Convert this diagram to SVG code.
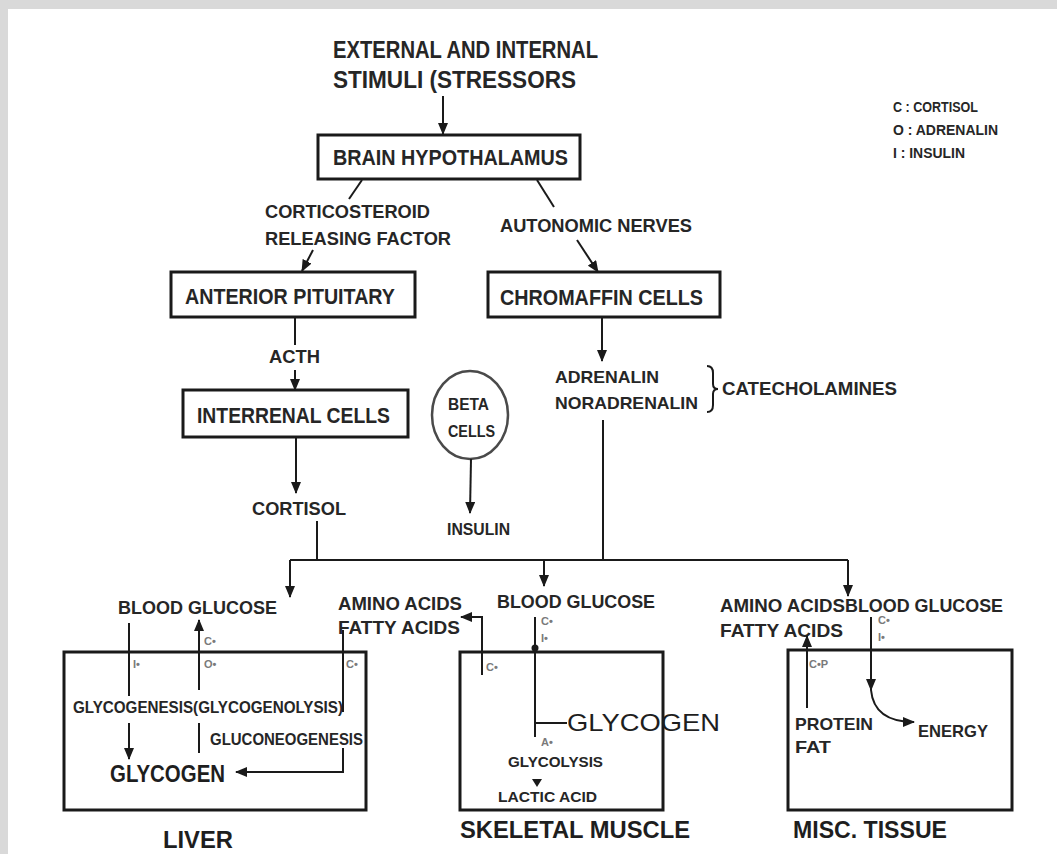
<svg xmlns="http://www.w3.org/2000/svg" width="1057" height="854" viewBox="0 0 1057 854">
<style>
  text { font-family: "Liberation Sans", Arial, sans-serif; font-weight: bold; fill: #262626; }
  .t23 { font-size: 23px; }
  .t22 { font-size: 22px; }
  .t19 { font-size: 19px; }
  .t17 { font-size: 17px; }
  .t16 { font-size: 16px; }
  .t15 { font-size: 15px; }
  .t14 { font-size: 14px; }
  .big { font-size: 24px; fill: #1e1e1e; }
  .mk { font-size: 11px; fill: #7a7a7a; }
  .box { fill: #ffffff; stroke: #1a1a1a; stroke-width: 3; }
  .tbox { fill: none; stroke: #1a1a1a; stroke-width: 3; }
  .ln { fill: none; stroke: #1a1a1a; stroke-width: 2; }
  .ar { fill: none; stroke: #1a1a1a; stroke-width: 2; marker-end: url(#ah); }
</style>
<defs>
  <marker id="ah" viewBox="0 0 12 10" refX="11" refY="5" markerWidth="12" markerHeight="10" markerUnits="userSpaceOnUse" orient="auto">
    <path d="M0,0 L12,5 L0,10 z" fill="#1a1a1a"/>
  </marker>
</defs>

<rect x="0" y="0" width="1057" height="854" fill="#d9d9d9"/>
<rect x="8" y="9" width="1049" height="845" fill="#ffffff"/>

<g id="title">
  <text class="t23" x="333" y="58" textLength="265" lengthAdjust="spacingAndGlyphs">EXTERNAL AND INTERNAL</text>
  <text class="t23" x="333" y="88" textLength="243" lengthAdjust="spacingAndGlyphs">STIMULI (STRESSORS</text>
</g>

<g id="legend">
  <text class="t14" x="893" y="112" textLength="85" lengthAdjust="spacingAndGlyphs">C : CORTISOL</text>
  <text class="t14" x="893" y="135" textLength="105" lengthAdjust="spacingAndGlyphs">O : ADRENALIN</text>
  <text class="t14" x="893" y="158" textLength="72" lengthAdjust="spacingAndGlyphs">I : INSULIN</text>
</g>

<g id="hypothalamus">
  <rect class="box" x="318" y="135" width="262" height="44"/>
  <text class="t22" x="333" y="165" textLength="235" lengthAdjust="spacingAndGlyphs">BRAIN HYPOTHALAMUS</text>
</g>

<g id="crf">
  <text class="t19" x="265" y="218" textLength="165" lengthAdjust="spacingAndGlyphs">CORTICOSTEROID</text>
  <text class="t19" x="265" y="245" textLength="186" lengthAdjust="spacingAndGlyphs">RELEASING FACTOR</text>
</g>

<g id="autonomic">
  <text class="t19" x="500" y="232" textLength="192" lengthAdjust="spacingAndGlyphs">AUTONOMIC NERVES</text>
</g>

<g id="anterior-pituitary">
  <rect class="box" x="171" y="272" width="244" height="45"/>
  <text class="t22" x="185" y="304" textLength="210" lengthAdjust="spacingAndGlyphs">ANTERIOR PITUITARY</text>
</g>

<g id="chromaffin">
  <rect class="box" x="488" y="272" width="232" height="45"/>
  <text class="t22" x="500" y="305" textLength="203" lengthAdjust="spacingAndGlyphs">CHROMAFFIN CELLS</text>
</g>

<g id="acth">
  <text class="t19" x="269" y="363" textLength="51" lengthAdjust="spacingAndGlyphs">ACTH</text>
</g>

<g id="interrenal">
  <rect class="box" x="183" y="390" width="225" height="47"/>
  <text class="t22" x="197" y="423" textLength="193" lengthAdjust="spacingAndGlyphs">INTERRENAL CELLS</text>
</g>

<g id="beta-cells">
  <ellipse cx="470" cy="415" rx="38" ry="44" fill="#ffffff" stroke="#4a4a4a" stroke-width="2.5"/>
  <text class="t17" x="448" y="410" textLength="41" lengthAdjust="spacingAndGlyphs">BETA</text>
  <text class="t17" x="448" y="437" textLength="47" lengthAdjust="spacingAndGlyphs">CELLS</text>
</g>

<g id="cortisol">
  <text class="t19" x="252" y="515" textLength="94" lengthAdjust="spacingAndGlyphs">CORTISOL</text>
</g>

<g id="insulin">
  <text class="t16" x="447" y="535" textLength="63" lengthAdjust="spacingAndGlyphs">INSULIN</text>
</g>

<g id="catecholamines">
  <text class="t17" x="555" y="383" textLength="104" lengthAdjust="spacingAndGlyphs">ADRENALIN</text>
  <text class="t17" x="555" y="409" textLength="143" lengthAdjust="spacingAndGlyphs">NORADRENALIN</text>
  <path class="ln" d="M707,366 q6,0 6,7 v11 q0,5 5,5 q-5,0 -5,5 v11 q0,7 -6,7"/>
  <text class="t19" x="722" y="395" textLength="175" lengthAdjust="spacingAndGlyphs">CATECHOLAMINES</text>
</g>

<g id="liver">
  <rect class="tbox" x="64" y="652" width="302" height="158"/>
  <text class="t19" x="118" y="614" textLength="159" lengthAdjust="spacingAndGlyphs">BLOOD GLUCOSE</text>
  <text class="t16" x="73" y="713" textLength="270" lengthAdjust="spacingAndGlyphs">GLYCOGENESIS(GLYCOGENOLYSIS)</text>
  <text class="t16" x="210" y="745" textLength="153" lengthAdjust="spacingAndGlyphs">GLUCONEOGENESIS</text>
  <text class="big" x="110" y="782" textLength="115" lengthAdjust="spacingAndGlyphs">GLYCOGEN</text>
  <text class="big" x="163" y="848" textLength="70" lengthAdjust="spacingAndGlyphs">LIVER</text>
  <text class="mk" x="133" y="668">I•</text>
  <text class="mk" x="204" y="645">C•</text>
  <text class="mk" x="204" y="668">O•</text>
  <text class="mk" x="346" y="668">C•</text>
</g>

<g id="liver-inputs">
  <text class="t19" x="338" y="610" textLength="124" lengthAdjust="spacingAndGlyphs">AMINO ACIDS</text>
  <text class="t19" x="338" y="634" textLength="122" lengthAdjust="spacingAndGlyphs">FATTY ACIDS</text>
</g>

<g id="skeletal-muscle">
  <rect class="tbox" x="460" y="652" width="203" height="158"/>
  <text class="t19" x="497" y="608" textLength="158" lengthAdjust="spacingAndGlyphs">BLOOD GLUCOSE</text>
  <text class="big" x="567" y="731" textLength="153" lengthAdjust="spacingAndGlyphs" style="font-weight:normal">GLYCOGEN</text>
  <text class="t15" x="508" y="767" textLength="95" lengthAdjust="spacingAndGlyphs">GLYCOLYSIS</text>
  <text class="t15" x="498" y="802" textLength="99" lengthAdjust="spacingAndGlyphs">LACTIC ACID</text>
  <text class="big" x="460" y="838" textLength="230" lengthAdjust="spacingAndGlyphs">SKELETAL MUSCLE</text>
  <text class="mk" x="486" y="671">C•</text>
  <text class="mk" x="541" y="625">C•</text>
  <text class="mk" x="541" y="642">I•</text>
  <text class="mk" x="541" y="746">A•</text>
</g>

<g id="misc-tissue">
  <rect class="tbox" x="788" y="650" width="224" height="160"/>
  <text class="t19" x="720" y="612" textLength="125" lengthAdjust="spacingAndGlyphs">AMINO ACIDS</text>
  <text class="t19" x="845" y="612" textLength="158" lengthAdjust="spacingAndGlyphs">BLOOD GLUCOSE</text>
  <text class="t19" x="720" y="637" textLength="123" lengthAdjust="spacingAndGlyphs">FATTY ACIDS</text>
  <text class="t17" x="795" y="730" textLength="78" lengthAdjust="spacingAndGlyphs">PROTEIN</text>
  <text class="t17" x="795" y="753" textLength="36" lengthAdjust="spacingAndGlyphs">FAT</text>
  <text class="t17" x="918" y="737" textLength="70" lengthAdjust="spacingAndGlyphs">ENERGY</text>
  <text class="big" x="793" y="838" textLength="154" lengthAdjust="spacingAndGlyphs">MISC. TISSUE</text>
  <text class="mk" x="809" y="668">C•P</text>
  <text class="mk" x="878" y="624">C•</text>
  <text class="mk" x="878" y="641">I•</text>
</g>

<g id="connectors">
  <path class="ar" d="M443,96 L443,134"/>
  <path class="ln" d="M362,180 L349,199"/>
  <path class="ar" d="M313,250 L302,271"/>
  <path class="ln" d="M537,180 L554,207"/>
  <path class="ar" d="M577,240 L598,272"/>
  <path class="ln" d="M295,318 L295,345"/>
  <path class="ar" d="M295,370 L295,390"/>
  <path class="ar" d="M296,438 L296,493"/>
  <path class="ar" d="M471,459 L470,513"/>
  <path class="ar" d="M602,318 L602,361"/>
  <path class="ln" d="M603,420 L603,560"/>
  <path class="ln" d="M317,521 L317,560"/>
  <path class="ln" d="M290,560 L848,560"/>
  <path class="ar" d="M290,560 L290,597"/>
  <path class="ar" d="M544,560 L544,586"/>
  <path class="ar" d="M848,560 L848,596"/>
  <path class="ln" d="M129,623 L129,696"/>
  <path class="ar" d="M129,723 L129,759"/>
  <path class="ar" d="M199,690 L199,620"/>
  <path class="ln" d="M199,723 L199,753"/>
  <path class="ln" d="M343,630 L343,712"/>
  <path class="ar" d="M343,748 L343,772 L236,772"/>
  <path class="ar" d="M482,675 L482,617 L461,617"/>
  <path class="ln" d="M535,617 L535,737"/>
  <circle cx="535" cy="648" r="3.5" fill="#1a1a1a"/>
  <path class="ln" d="M535,723 L567,723"/>
  <path d="M532,779 L542,779 L537,787 z" fill="#1a1a1a"/>
  <path class="ar" d="M807,708 L807,636"/>
  <path class="ar" d="M871,617 L871,690"/>
  <path class="ar" d="M871,690 Q874,722 914,722"/>
</g>
</svg>
